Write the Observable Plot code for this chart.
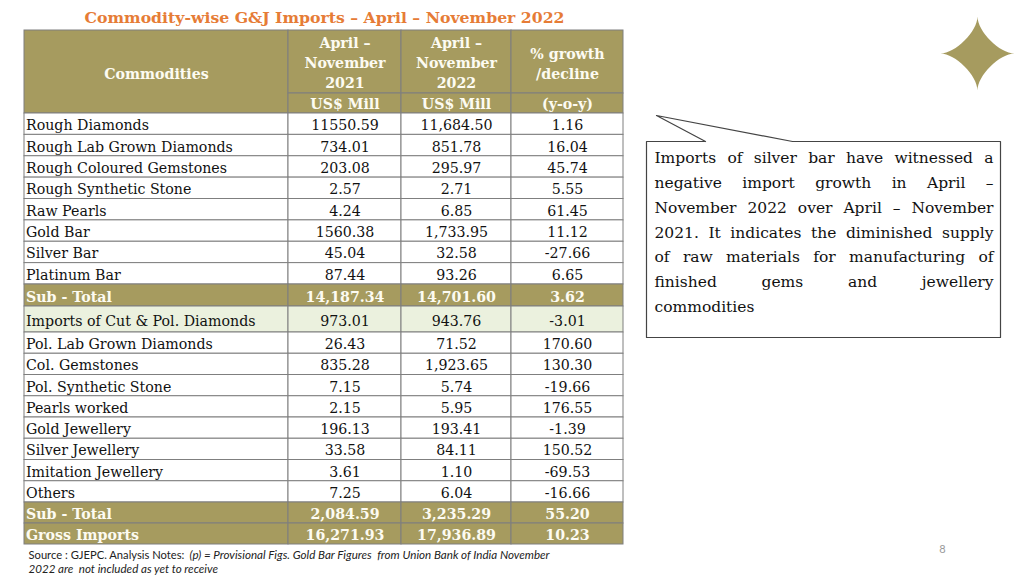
<!DOCTYPE html>
<html><head><meta charset="utf-8">
<script src="https://cdn.jsdelivr.net/npm/d3@7"></script>
<script src="https://cdn.jsdelivr.net/npm/@observablehq/plot@0.6"></script>
<style>html,body{margin:0;padding:0;background:#fff;} svg{display:block}</style>
</head><body><div id="chart"></div>
<script>
// ---------- DATA ----------
const title = "Commodity-wise G&J Imports – April – November 2022";
const headerLabels = ["Commodities", "April –\nNovember\n2021", "April –\nNovember\n2022", "% growth\n/decline"];
const unitLabels = ["US$ Mill", "US$ Mill", "(y-o-y)"];
const commodities = ["Rough Diamonds","Rough Lab Grown Diamonds","Rough Coloured Gemstones","Rough Synthetic Stone","Raw Pearls","Gold Bar","Silver Bar","Platinum Bar","Sub - Total","Imports of Cut & Pol. Diamonds","Pol. Lab Grown Diamonds","Col. Gemstones","Pol. Synthetic Stone","Pearls worked","Gold Jewellery","Silver Jewellery","Imitation Jewellery","Others","Sub - Total","Gross Imports"];
const values2021 = ["11550.59","734.01","203.08","2.57","4.24","1560.38","45.04","87.44","14,187.34","973.01","26.43","835.28","7.15","2.15","196.13","33.58","3.61","7.25","2,084.59","16,271.93"];
const values2022 = ["11,684.50","851.78","295.97","2.71","6.85","1,733.95","32.58","93.26","14,701.60","943.76","71.52","1,923.65","5.74","5.95","193.41","84.11","1.10","6.04","3,235.29","17,936.89"];
const growth = ["1.16","16.04","45.74","5.55","61.45","11.12","-27.66","6.65","3.62","-3.01","170.60","130.30","-19.66","176.55","-1.39","150.52","-69.53","-16.66","55.20","10.23"];
const rowKinds = ["item","item","item","item","item","item","item","item","sub","cut","item","item","item","item","item","item","item","item","sub","sub"];
const calloutLines = ["Imports of silver bar have witnessed a","negative import growth in April –","November 2022 over April – November","2021. It indicates the diminished supply","of raw materials for manufacturing of","finished gems and jewellery","commodities"];
const sourceNote = "Source : GJEPC. Analysis Notes:";
const sourceItalic = ["(p) = Provisional Figs. Gold Bar Figures  from Union Bank of India November", "2022 are  not included as yet to receive"];
const pageNumber = "8";

// ---------- LAYOUT & STYLE ----------
const olive = "#a69b5f", green = "#ebf1de", border = "#7f7f7f", headText = "#fdfbf2", orange = "#e67c36";
const serif = "DejaVu Serif";
const fs = 14.2;
const colX = [24, 288, 401, 511, 623];
const headTop = 30, headSplit = 93, headBottom = 113;
const rowH = [...Array(8).fill(21.375), 22, 26, ...Array(8).fill(21.25), 21, 21];

let yy = headBottom;
const rows = commodities.map((c, i) => {
  const y1 = yy; yy += rowH[i];
  return {i, kind: rowKinds[i], y1, y2: yy, cols: [c, values2021[i], values2022[i], growth[i]]};
});
const cells = rows.flatMap(r => r.cols.map((t, j) => ({
  t, j, kind: r.kind, x1: colX[j], x2: colX[j + 1], y1: r.y1, y2: r.y2,
  tx: j === 0 ? colX[0] + 1.5 : (colX[j] + colX[j + 1]) / 2, ty: (r.y1 + r.y2) / 2 + 1.5
})));
const fillFor = k => k === "sub" ? olive : k === "cut" ? green : "#ffffff";

const headCells = [{x1: colX[0], x2: colX[1], y1: headTop, y2: headBottom}];
for (let j = 1; j < 4; j++) {
  headCells.push({x1: colX[j], x2: colX[j + 1], y1: headTop, y2: headSplit});
  headCells.push({x1: colX[j], x2: colX[j + 1], y1: headSplit, y2: headBottom});
}
const headTexts = headerLabels.map((t, j) => ({t, x: (colX[j] + colX[j + 1]) / 2, y: j === 0 ? 72 : j === 3 ? 62 : 61.5}));
const unitTexts = unitLabels.map((t, k) => ({t, x: (colX[k + 1] + colX[k + 2]) / 2, y: (headSplit + headBottom) / 2 + 0.5}));

const box = {x1: 646, x2: 1000, y1: 141, y2: 337};
const calloutPath = [[705, 141], [656, 115], [792, 141], [box.x2, box.y1], [box.x2, box.y2], [box.x1, box.y2], [box.x1, box.y1], [705, 141]];
const calloutText = calloutLines.map((t, i) => ({t, x: 654, y: 158 + i * 24.7}));

const starSymbol = {
  draw(ctx, size) {
    const R = Math.sqrt(size / Math.PI), k = 0.6 * R;
    ctx.moveTo(0, -R);
    ctx.bezierCurveTo(0, -k, k, 0, R, 0);
    ctx.bezierCurveTo(k, 0, 0, k, 0, R);
    ctx.bezierCurveTo(0, k, -k, 0, -R, 0);
    ctx.bezierCurveTo(-k, 0, 0, -k, 0, -R);
    ctx.closePath();
  }
};

const plot = Plot.plot({
  width: 1024, height: 576, margin: 0,
  x: {type: "identity", axis: null},
  y: {type: "identity", axis: null},
  style: {fontFamily: serif, background: "#fff"},
  marks: [
    Plot.text([title], {x: 324, y: 17, text: d => d, fill: orange, fontWeight: "bold", fontSize: 15.7}),
    Plot.rect(headCells, {x1: "x1", x2: "x2", y1: "y1", y2: "y2", fill: olive, stroke: border, strokeWidth: 1}),
    Plot.rect(cells, {x1: "x1", x2: "x2", y1: "y1", y2: "y2", fill: d => fillFor(d.kind), stroke: border, strokeWidth: 1}),
    Plot.text(headTexts, {x: "x", y: "y", text: "t", fill: headText, fontWeight: "bold", fontSize: fs, lineHeight: 1.4}),
    Plot.text(unitTexts, {x: "x", y: "y", text: "t", fill: headText, fontWeight: "bold", fontSize: fs}),
    Plot.text(cells.filter(d => d.kind !== "sub" && d.j === 0), {x: "tx", y: "ty", text: "t", fill: "#111", fontSize: fs, textAnchor: "start"}),
    Plot.text(cells.filter(d => d.kind !== "sub" && d.j > 0), {x: "tx", y: "ty", text: "t", fill: "#111", fontSize: fs}),
    Plot.text(cells.filter(d => d.kind === "sub" && d.j === 0), {x: "tx", y: "ty", text: "t", fill: headText, fontWeight: "bold", fontSize: fs, textAnchor: "start"}),
    Plot.text(cells.filter(d => d.kind === "sub" && d.j > 0), {x: "tx", y: "ty", text: "t", fill: headText, fontWeight: "bold", fontSize: fs}),
    Plot.text([sourceNote], {x: 28, y: 555, text: d => d, fill: "#222", fontSize: 11.2, fontFamily: "Lato", textAnchor: "start"}),
    Plot.text(sourceItalic, {x: (d, i) => i === 0 ? 189 : 28, y: (d, i) => 555 + i * 13.5, text: d => d, fill: "#222", fontSize: 11.6, fontFamily: "Lato", fontStyle: "italic", textAnchor: "start"}),
    Plot.line(calloutPath, {x: d => d[0], y: d => d[1], stroke: "#444", strokeWidth: 1.2}),
    Plot.text(calloutText, {x: "x", y: "y", text: "t", fill: "#111", fontSize: 15.5, textAnchor: "start"}),
    Plot.dot([{x: 977, y: 53}], {x: "x", y: "y", r: 37, symbol: starSymbol, fill: olive, stroke: "none"}),
    Plot.text([pageNumber], {x: 942, y: 549, text: d => d, fill: "#9a9a9a", fontSize: 11, fontFamily: "Lato"})
  ]
});
document.getElementById("chart").appendChild(plot);

// justify callout lines (all but the last) by placing each word
const target = box.x2 - 7 - 654;
const ns = "http://www.w3.org/2000/svg";
plot.querySelectorAll("text").forEach(el => {
  const idx = calloutLines.indexOf(el.textContent);
  if (idx < 0 || idx === calloutLines.length - 1) return;
  const words = calloutLines[idx].split(" ");
  el.textContent = "";
  const spans = words.map(w => {
    const s = document.createElementNS(ns, "tspan");
    s.textContent = w;
    el.appendChild(s);
    return s;
  });
  const widths = spans.map(s => s.getComputedTextLength());
  const gap = (target - d3.sum(widths)) / (words.length - 1);
  let x = 0;
  spans.forEach((s, i) => { s.setAttribute("x", x); x += widths[i] + gap; });
});
</script>
</body></html>
